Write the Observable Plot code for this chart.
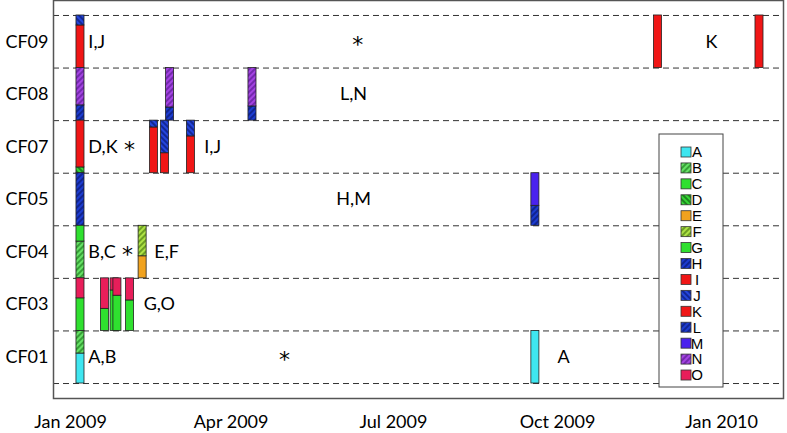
<!DOCTYPE html>
<html><head><meta charset="utf-8">
<script src="https://cdn.jsdelivr.net/npm/d3@7"></script>
<script src="https://cdn.jsdelivr.net/npm/@observablehq/plot@0.6"></script>
<style>body{margin:0;background:#fff} #chart svg{display:block}</style>
</head><body><div id="chart"></div>
<script>
// ---------- data ----------
const rows = ["CF01", "CF03", "CF04", "CF05", "CF07", "CF08", "CF09"];
const categories = ["A","B","C","D","E","F","G","H","I","J","K","L","M","N","O"];
const xTicks = ["2009-01-01", "2009-04-01", "2009-07-01", "2009-10-01", "2010-01-01"];

// each bar: row, centre date, segments bottom->top [category, share of row]
const bars = [
  {row: "CF09", date: "2009-01-06T14:00Z", segs: [["I", 0.81], ["J", 0.19]]},
  {row: "CF09", date: "2009-11-26T07:00Z", segs: [["K", 1]]},
  {row: "CF09", date: "2010-01-22T05:00Z", segs: [["K", 1]]},
  {row: "CF08", date: "2009-01-06T14:00Z", segs: [["L", 0.29], ["N", 0.71]]},
  {row: "CF08", date: "2009-02-25T19:00Z", segs: [["L", 0.25], ["N", 0.75]]},
  {row: "CF08", date: "2009-04-13T00:00Z", segs: [["L", 0.27], ["N", 0.73]]},
  {row: "CF07", date: "2009-01-06T14:00Z", segs: [["D", 0.11], ["K", 0.89]]},
  {row: "CF07", date: "2009-02-16T19:00Z", segs: [["I", 0.87], ["J", 0.13]]},
  {row: "CF07", date: "2009-02-23T00:00Z", segs: [["I", 0.38], ["J", 0.62]]},
  {row: "CF07", date: "2009-03-09T12:00Z", segs: [["I", 0.70], ["J", 0.30]]},
  {row: "CF05", date: "2009-01-06T14:00Z", segs: [["H", 1]]},
  {row: "CF05", date: "2009-09-18T14:00Z", segs: [["H", 0.38], ["M", 0.62]]},
  {row: "CF04", date: "2009-01-06T14:00Z", segs: [["B", 0.70], ["C", 0.30]]},
  {row: "CF04", date: "2009-02-10T10:00Z", segs: [["E", 0.42], ["F", 0.58]]},
  {row: "CF03", date: "2009-01-06T14:00Z", segs: [["G", 0.62], ["O", 0.38]]},
  {row: "CF03", date: "2009-01-20T07:00Z", segs: [["G", 0.42], ["O", 0.58]]},
  {row: "CF03", date: "2009-01-25T17:00Z", segs: [["G", 0.77], ["O", 0.23]]},
  {row: "CF03", date: "2009-01-27T07:00Z", segs: [["G", 0.67], ["O", 0.33]]},
  {row: "CF03", date: "2009-02-03T09:00Z", segs: [["G", 0.58], ["O", 0.42]]},
  {row: "CF01", date: "2009-01-06T14:00Z", segs: [["A", 0.57], ["B", 0.43]]},
  {row: "CF01", date: "2009-09-18T14:00Z", segs: [["A", 1]]}
];

// text annotations (left-anchored) and asterisks (centred)
const labels = [
  {row: "CF09", date: "2009-01-11", text: "I,J"},
  {row: "CF09", date: "2009-12-23", text: "K"},
  {row: "CF08", date: "2009-06-01", text: "L,N"},
  {row: "CF07", date: "2009-01-11", text: "D,K"},
  {row: "CF07", date: "2009-03-17", text: "I,J"},
  {row: "CF05", date: "2009-05-30", text: "H,M"},
  {row: "CF04", date: "2009-01-11", text: "B,C"},
  {row: "CF04", date: "2009-02-17", text: "E,F"},
  {row: "CF03", date: "2009-02-11", text: "G,O"},
  {row: "CF01", date: "2009-01-11", text: "A,B"},
  {row: "CF01", date: "2009-10-01", text: "A"}
];
const asterisks = [
  {row: "CF09", date: "2009-06-11"},
  {row: "CF07", date: "2009-02-03"},
  {row: "CF04", date: "2009-02-02"},
  {row: "CF01", date: "2009-05-01"}
];

// ---------- styles ----------
const solid = {A: "#3fe6f0", C: "#2fe02f", E: "#f0a21e", G: "#2fe02f", I: "#f01616", K: "#f01616", M: "#4a22ee", O: "#e81e5a"};
const hatch = {
  B: {base: "#66e266", line: "#1e7a1e", dir: 1},
  D: {base: "#36d636", line: "#0e5a0e", dir: -1},
  F: {base: "#aee244", line: "#4a7a10", dir: 1},
  H: {base: "#1c3cd0", line: "#0a166e", dir: 1},
  J: {base: "#2446dc", line: "#0a166e", dir: -1},
  L: {base: "#1c3cd0", line: "#0a166e", dir: 1},
  N: {base: "#a444e2", line: "#5a1a92", dir: 1}
};
const fillOf = c => solid[c] || `url(#hatch-${c})`;

// ---------- build segments ----------
const segs = [];
bars.forEach(b => {
  let cum = rows.indexOf(b.row);
  b.segs.forEach(([cat, share]) => {
    segs.push({cat, date: new Date(b.date), y1: cum, y2: cum + share});
    cum += share;
  });
});
const half = 2.25 * 864e5; // half bar width in ms

const plot = Plot.plot({
  width: 787, height: 433,
  marginLeft: 53, marginRight: 4, marginTop: 0, marginBottom: 35,
  style: {fontFamily: "Lato, sans-serif", fontSize: "18px", color: "#000", background: "#fff"},
  x: {type: "utc", domain: [new Date("2008-12-22T11:00Z"), new Date("2010-02-04T16:00Z")]},
  y: {domain: [-0.285, rows.length + 0.285]},
  color: {type: "identity"},
  marks: [
    Plot.ruleY(d3.range(rows.length + 1), {stroke: "#333", strokeDasharray: "6,4", strokeWidth: 1}),
    Plot.rect(segs, {
      x1: d => new Date(+d.date - half), x2: d => new Date(+d.date + half),
      y1: "y1", y2: "y2", fill: d => fillOf(d.cat), stroke: "#222", strokeWidth: 0.8
    }),
    Plot.text(labels, {x: d => new Date(d.date), y: d => rows.indexOf(d.row) + 0.5, text: "text",
      textAnchor: "start", fontSize: 18, fill: "#000"}),
    Plot.text(asterisks, {x: d => new Date(d.date), y: d => rows.indexOf(d.row) + 0.5, text: () => "*",
      textAnchor: "middle", fontSize: 22, fontFamily: "'DejaVu Sans', sans-serif", dy: 3, fill: "#000"}),
    Plot.frame({stroke: "#555", strokeWidth: 1.5}),
    Plot.axisX({ticks: xTicks.map(d => new Date(d)), tickFormat: d3.utcFormat("%b %Y"),
      tickSize: 0, tickPadding: 17, fontSize: 18, label: null}),
    Plot.axisY({ticks: rows.map((_, i) => i + 0.5), tickFormat: v => rows[Math.round(v - 0.5)],
      tickSize: 0, tickPadding: 5, fontSize: 18, label: null})
  ]
});

// hatch patterns
const svg = d3.select(plot);
const defs = svg.append("defs");
Object.entries(hatch).forEach(([c, h]) => {
  const p = defs.append("pattern").attr("id", `hatch-${c}`).attr("patternUnits", "userSpaceOnUse")
    .attr("width", 4).attr("height", 4).attr("patternTransform", `rotate(${45 * h.dir})`);
  p.append("rect").attr("width", 4).attr("height", 4).attr("fill", h.base);
  p.append("line").attr("x1", 1).attr("y1", 0).attr("x2", 1).attr("y2", 4)
    .attr("stroke", h.line).attr("stroke-width", 1.3);
});

// legend inside the plot area
const lg = svg.append("g").attr("font-family", "'Liberation Sans', Arial, sans-serif").attr("font-size", 15);
lg.append("rect").attr("x", 659).attr("y", 134).attr("width", 64).attr("height", 253)
  .attr("fill", "#fff").attr("stroke", "#444").attr("stroke-width", 1);
categories.forEach((c, i) => {
  const cy = 152 + i * 15.93;
  lg.append("rect").attr("x", 681).attr("y", cy - 5).attr("width", 10).attr("height", 10)
    .attr("fill", fillOf(c)).attr("stroke", "#333").attr("stroke-width", 0.8);
  lg.append("text").attr("x", 697).attr("y", cy).attr("dy", "0.36em").attr("fill", "#000").text(c);
});

document.getElementById("chart").appendChild(plot);
</script>
</body></html>
